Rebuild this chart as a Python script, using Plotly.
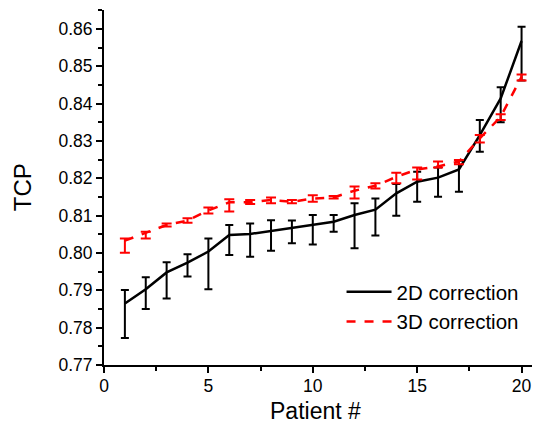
import plotly.graph_objects as go

patients = list(range(1, 21))
tcp_2d = [0.7865, 0.7903, 0.7948, 0.7974, 0.8004, 0.8048, 0.8051, 0.8059, 0.8066, 0.8075,
          0.8084, 0.8102, 0.8116, 0.8160, 0.8191, 0.8202, 0.8224, 0.8316, 0.8414, 0.8568]
err_2d_up = [0.0036, 0.0032, 0.0027, 0.0023, 0.0035, 0.0027, 0.0028, 0.0029, 0.0021, 0.0027,
             0.0018, 0.0031, 0.0030, 0.0025, 0.0027, 0.0027, 0.0023, 0.0040, 0.0030, 0.0038]
err_2d_dn = [0.0093, 0.0053, 0.0070, 0.0037, 0.0101, 0.0053, 0.0061, 0.0053, 0.0040, 0.0052,
             0.0027, 0.0089, 0.0069, 0.0060, 0.0054, 0.0051, 0.0060, 0.0045, 0.0064, 0.0106]
tcp_3d = [0.8033, 0.8053, 0.8075, 0.8087, 0.8114, 0.8136, 0.8136, 0.8142, 0.8137, 0.8146,
          0.8149, 0.8167, 0.8180, 0.8204, 0.8224, 0.8232, 0.8245, 0.8307, 0.8365, 0.8472]
err_3d_up = [0.0006, 0.0004, 0.0004, 0.0006, 0.0008, 0.0008, 0.0006, 0.0007, 0.0005, 0.0009,
             0.0004, 0.0011, 0.0007, 0.0011, 0.0005, 0.0013, 0.0004, 0.0009, 0.0007, 0.0006]
err_3d_dn = [0.0032, 0.0014, 0.0004, 0.0006, 0.0008, 0.0025, 0.0005, 0.0009, 0.0004, 0.0009,
             0.0003, 0.0021, 0.0007, 0.0017, 0.0027, 0.0003, 0.0007, 0.0011, 0.0009, 0.0010]

fig = go.Figure()
fig.add_trace(go.Scatter(
    x=patients, y=tcp_2d, mode="lines", name="2D correction",
    line=dict(color="black", width=2.5),
    error_y=dict(type="data", symmetric=False, array=err_2d_up, arrayminus=err_2d_dn,
                 visible=True, color="black", thickness=2, width=4),
))
fig.add_trace(go.Scatter(
    x=patients, y=tcp_3d, mode="lines", name="3D correction",
    line=dict(color="red", width=2.5, dash="dash"),
    error_y=dict(type="data", symmetric=False, array=err_3d_up, arrayminus=err_3d_dn,
                 visible=True, color="red", thickness=2, width=5),
))

font = "Arial, Liberation Sans, sans-serif"
fig.update_layout(
    width=534, height=424,
    margin=dict(l=104, r=2, t=10, b=59),
    paper_bgcolor="white", plot_bgcolor="white",
    font=dict(family=font, color="black", size=17.5),
    legend=dict(x=0.555, y=0.262, xanchor="left", yanchor="top",
                bgcolor="rgba(0,0,0,0)", font=dict(size=20.5), itemwidth=45,
                tracegroupgap=0),
    xaxis=dict(
        range=[0, 20.5], tickmode="linear", tick0=0, dtick=5,
        showline=True, linecolor="black", linewidth=2, mirror=False,
        ticks="outside", ticklen=6, tickwidth=2, tickcolor="black",
        ticklabelstandoff=-2,
        showgrid=False, zeroline=False,
        minor=dict(dtick=2.5, ticks="outside", ticklen=4, tickwidth=2, tickcolor="black", showgrid=False),
    ),
    yaxis=dict(
        range=[0.77, 0.8651], tickmode="linear", tick0=0.77, dtick=0.01, tickformat=".2f",
        showline=True, linecolor="black", linewidth=2, mirror=False,
        ticks="outside", ticklen=6, tickwidth=2, tickcolor="black",
        showgrid=False, zeroline=False,
        minor=dict(dtick=0.005, ticks="outside", ticklen=4, tickwidth=2, tickcolor="black", showgrid=False),
    ),
    annotations=[
        dict(text="Patient #", xref="paper", yref="paper", x=0.495, y=-0.1296,
             xanchor="center", yanchor="middle", showarrow=False, font=dict(size=23)),
        dict(text="TCP", xref="paper", yref="paper", x=-0.19, y=0.5,
             xanchor="center", yanchor="middle", showarrow=False, textangle=-90,
             font=dict(size=24)),
    ],
)
fig.write_html("out.html")
